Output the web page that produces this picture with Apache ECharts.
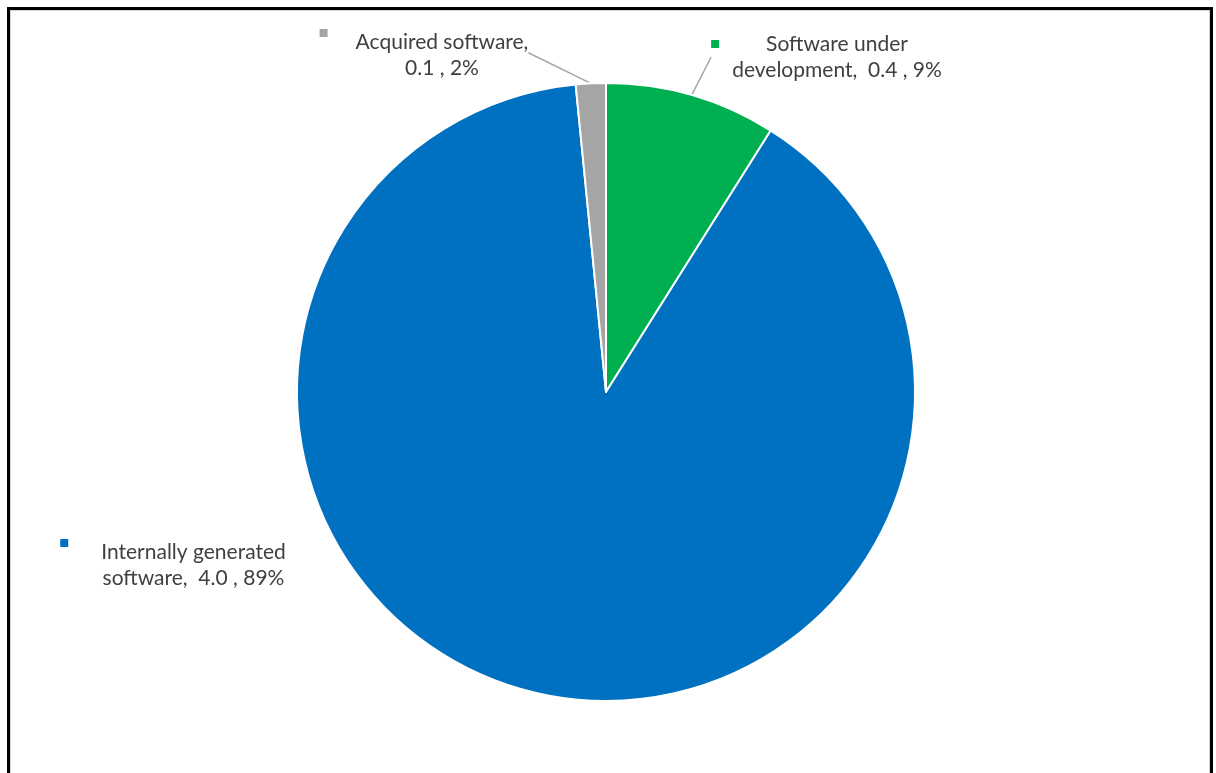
<!DOCTYPE html>
<html>
<head>
<meta charset="utf-8">
<script src="https://cdn.jsdelivr.net/npm/echarts@6/dist/echarts.min.js"></script>
<style>
  html, body { margin: 0; padding: 0; background: #fff; overflow: hidden; }
  #frame {
    position: absolute; left: 7px; top: 7px; width: 1200px; height: 800px;
    border: 3px solid #000; box-shadow: inset 0 0 0 1px #d4d4d4;
  }
  #chart { position: absolute; left: 0; top: 0; width: 1216px; height: 773px; }
</style>
</head>
<body>
<div id="frame"></div>
<div id="chart"></div>
<script>
  // slices, clockwise from 12 o'clock
  const categories = ['Software under\ndevelopment', 'Internally generated\nsoftware', 'Acquired software']
  const values = [0.4, 4.0, 0.07]
  const colors = ['#00B050', '#0070C0', '#A5A5A5']

  // label block centre / top, gap between key square and text, key alignment
  const labelPos = [[837, 31], [173, 539], [424, 29]]
  const keyGap = [47, 33, 28]
  const keyAlign = ['middle', 'top', 'top']

  const chart = echarts.init(document.getElementById('chart'))

  const rich = {
    t: { fontFamily: 'Lato', fontSize: 21, color: '#404040', lineHeight: 26 }
  }
  colors.forEach(function (c, i) {
    rich['sq' + i] = { width: 8, height: 8, backgroundColor: c, verticalAlign: keyAlign[i], lineHeight: 26 }
    rich['sh' + i] = { width: 8, height: 8, lineHeight: 26 }
    rich['g' + i] = { width: keyGap[i], lineHeight: 26 }
    rich['p' + i] = { width: keyGap[i] + 8, lineHeight: 26 }
  })

  chart.setOption({
    animation: false,
    color: colors,
    series: [{
      type: 'pie',
      center: [606, 392],
      radius: 309,
      startAngle: 90,
      clockwise: true,
      avoidLabelOverlap: false,
      itemStyle: { borderColor: '#fff', borderWidth: 2 },
      label: {
        show: true,
        position: 'outside',
        align: 'center',
        rich: rich,
        formatter: function (p) {
          const i = p.dataIndex
          const name = p.name
          const txt = name + ',' + (name.indexOf('\n') >= 0 ? '  ' : '\n') +
            p.value.toFixed(1) + ' , ' + Math.round(p.percent) + '%'
          const lines = txt.split('\n')
          if (i === 0) {
            // key on the left, balanced by a blank on the right
            return '{sq0|}{g0|}{t|' + lines[0] + '}{p0|}\n{t|' + lines[1] + '}'
          }
          return '{sq' + i + '|}{g' + i + '|}{t|' + lines[0] + '}\n' +
            '{sh' + i + '|}{g' + i + '|}{t|' + lines[1] + '}'
        }
      },
      labelLine: {
        show: true,
        length: 10,
        length2: 0,
        lineStyle: { color: '#A6A6A6', width: 1.5 }
      },
      labelLayout: function (params) {
        const pos = labelPos[params.dataIndex]
        return { x: pos[0], y: pos[1], align: 'center', verticalAlign: 'top' }
      },
      emphasis: { disabled: true },
      data: categories.map(function (c, i) {
        const item = { name: c, value: values[i] }
        if (i === 1) item.labelLine = { show: false }
        return item
      })
    }]
  })
</script>
</body>
</html>
